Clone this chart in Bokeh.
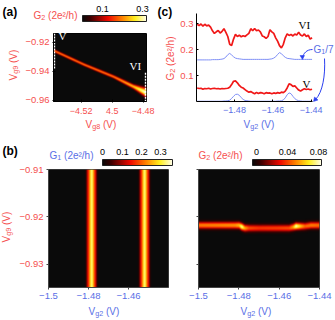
import numpy as np
from bokeh.plotting import figure
from bokeh.layouts import row, column
from bokeh.models import (Range1d, FixedTicker, Label, LinearColorMapper, ColorBar)
from bokeh.embed import file_html
from bokeh.resources import INLINE

RED = "#f5504f"
BLUE = "#5a6fe6"
SANS = "Liberation Sans"
SERIF = "Liberation Serif"

# ---- panel (c) line series, Vg2 from -1.4995 in steps of 0.001
g2_vi = [.297,.292,.298,.290,.297,.291,.294,.286,.272,.262,.268,.273,.263,.270,.280,.266,.250,.220,.215,.240,
         .258,.250,.255,.249,.253,.250,.256,.262,.280,.272,.281,.272,.275,.268,.252,.249,.243,.250,.276,.268,
         .262,.245,.232,.215,.206,.220,.245,.260,.254,.258,.252,.259,.256,.266,.256,.252,.260,.250,.255,.240,.245]
g2_v = [.052,.050,.051,.047,.050,.049,.051,.048,.050,.051,.049,.050,.048,.050,.049,.050,.051,.055,.065,.078,
        .079,.072,.062,.055,.052,.046,.040,.036,.038,.034,.030,.035,.031,.034,.033,.030,.034,.032,.033,.030,
        .033,.031,.034,.032,.036,.034,.040,.052,.068,.065,.058,.060,.052,.044,.040,.045,.049,.046,.048,.045,.047]
g1_vi = [.160]*8+[.161]*4+[.162,.163,.165,.171,.180,.185,.179,.172,.167,.165,.164,.163]+[.162]*14+ \
        [.163,.164,.167,.172,.181,.188,.184,.176,.170,.166,.165,.164,.163]+[.162]*10
g1_v = [.001]*14+[.002,.002,.003,.005,.012,.020,.027,.028,.024,.015,.008,.004,.003,.002]+[.001]*14+ \
       [.002,.002,.003,.006,.014,.026,.033,.030,.020,.011,.006,.003,.002]+[.001]*6
vg2_c = [-1.4995+0.001*i for i in range(len(g2_vi))]

# ---- panel (a): ridge of G2 in the (Vg8, Vg9) plane
a_vg8 = [-4.5379,-4.5183,-4.4990,-4.4861,-4.4785]
a_vg9 = [-0.9255,-0.9352,-0.9437,-0.9506,-0.9545]
a_peak = [0.190,0.190,0.190,0.230,0.310]
a_width = [0.0010,0.0010,0.0011,0.0015,0.0028]

# ---- panel (b) left: G1 stripes
b1_centres = [-1.4785,-1.4518]
b1_offset = [-.0034,-.0027,-.0022,-.0017,-.0012,-.0006,0,.0006,.0012,.0017,.0022,.0027,.0034]
b1_shape = [0,.04,.11,.16,.21,.28,.34,.28,.21,.16,.11,.04,0]

# ---- panel (b) right: G2 line along Vg2
b2_vg2 = [-1.5,-1.49,-1.482,-1.480,-1.4786,-1.477,-1.475,-1.47,-1.46,-1.455,-1.453,-1.4515,-1.449,-1.447,-1.444,-1.44]
b2_vg9 = [-.9218,-.9218,-.9218,-.9218,-.9221,-.9224,-.9224,-.9224,-.9224,-.9224,-.9222,-.9220,-.9220,-.9220,-.9218,-.9218]
b2_peak = [.056,.058,.060,.066,.086,.062,.048,.044,.046,.048,.062,.088,.066,.052,.056,.054]

prof_x = [-2.2,-1.6,-1.2,-.8,-.4,0,.4,.8,1.2,1.6,2.2]
prof_y = [0,.05,.22,.52,.88,1,.88,.52,.22,.05,0]

stops = [(0,(10,10,10)),(.12,(60,0,0)),(.40,(240,10,0)),(.62,(255,130,0)),(.82,(255,240,30)),(1,(255,255,235))]
pal = []
for i in range(256):
    t = i/255
    pal.append("#%02x%02x%02x" % tuple(int(np.interp(t,[s[0] for s in stops],[s[1][k] for s in stops])) for k in range(3)))

WIDTHS = {"V":.667,"g":.556,"G":.778,"e":.556,"/":.278,"h":.556," ":.278,"(":.333,")":.333,"²":.333}
def tw(s, fs):
    return sum(WIDTHS.get(c,.556) for c in s)*fs

def mk(cell, frame, xr, yr):
    cx0,cy0,cx1,cy1 = cell
    fx0,fy0,fx1,fy1 = frame
    p = figure(width=cx1-cx0,height=cy1-cy0,output_backend="svg",toolbar_location=None,
               x_range=Range1d(*xr),y_range=Range1d(*yr),frame_align=False,
               min_border_left=fx0-cx0,min_border_right=cx1-fx1,min_border_top=fy0-cy0,min_border_bottom=cy1-fy1,
               background_fill_color=None,border_fill_color=None)
    p.grid.visible = False
    return p

# transparent sheet over the whole page, its data units are page pixels: holds the free texts
sheet = figure(width=335,height=320,output_backend="svg",toolbar_location=None,frame_align=False,
               x_range=Range1d(0,335),y_range=Range1d(320,0),x_axis_location=None,y_axis_location=None,
               min_border=0,background_fill_color=None,border_fill_color=None,outline_line_color=None,
               margin=(-320,0,0,0))
sheet.grid.visible = False

def text(x,y,t,color="black",fs=10,font=SANS,style="normal",align="left",angle=0):
    if angle: x -= 3
    else: y -= 6
    sheet.add_layout(Label(x=x,y=y,text=t,text_color=color,text_font_size=f"{fs}px",text_font=font,
                           text_font_style=style,text_align=align,text_baseline="alphabetic",
                           angle=angle,angle_units="deg"))
def parts(x,y,segs,color,fs=10,vertical=False):
    for t,sub in segs:
        f = fs*.72 if sub else fs
        lead = tw(t[:len(t)-len(t.lstrip())],f)
        if vertical:
            y -= lead
            text(x+(2 if sub else 0),y,t.strip(),color,f,angle=90)
            y -= tw(t.strip(),f)
        else:
            x += lead
            text(x,y+(2 if sub else 0),t.strip(),color,f)
            x += tw(t.strip(),f)
def cbar(p,f,x0,x1,y0,y1,hi):
    m = LinearColorMapper(palette=pal,low=0,high=hi)
    p.add_layout(ColorBar(color_mapper=m,location=(x0-f[0],f[3]-y1),width=x1-x0,height=y1-y0,padding=0,margin=0,
                          orientation="horizontal",ticker=FixedTicker(ticks=[]),major_tick_line_color=None,minor_tick_line_color=None,
                          bar_line_color="#222222",bar_line_width=1,border_line_color=None,background_fill_color=None,label_standoff=0))

def style(ax,ticks,labels,color,fs=9,tin=2,tout=0,lc="black",so=3):
    ax.ticker = FixedTicker(ticks=ticks)
    ax.major_label_overrides = dict(zip(ticks,labels))
    ax.major_label_text_color = color
    ax.major_label_text_font = SANS
    ax.major_label_text_font_size = f"{fs}px"
    ax.major_label_standoff = so
    ax.major_tick_in = tin
    ax.major_tick_out = tout
    ax.minor_tick_line_color = None
    ax.axis_line_color = lc
    ax.major_tick_line_color = lc

# ---------- (a)
fa = (53,33,146,101)
xa = (-4.5379,-4.4779); ya = (-0.9607,-0.9138)
pa = mk((0,0,155,140),fa,xa,ya)
X,Y = np.meshgrid(np.linspace(*xa,93),np.linspace(*ya,68))
cy = np.interp(X,a_vg8,a_vg9); pk = np.interp(X,a_vg8,a_peak); wd = np.interp(X,a_vg8,a_width)
Za = pk*np.interp((Y-cy)/wd,prof_x,prof_y)
mapa = LinearColorMapper(palette=pal,low=0,high=.31)
pa.image(image=[Za],x=xa[0],y=ya[0],dw=xa[1]-xa[0],dh=ya[1]-ya[0],color_mapper=mapa)
pa.outline_line_color="black"
style(pa.xaxis[0],[-4.52,-4.5,-4.48],["−4.52","4.5","−4.48"],RED,tin=2,tout=1,so=5)
style(pa.yaxis[0],[-.96,-.94,-.92],["−0.96","−0.94","−0.92"],RED,fs=9.5,tin=2,tout=1)
pa.segment(x0=[xa[0]+.0006],x1=[xa[0]+.0006],y0=[ya[1]],y1=[-.9385],line_color="white",line_width=1.5,line_dash="2 1")
pa.segment(x0=[xa[1]-.0006],x1=[xa[1]-.0006],y0=[-.9408],y1=[ya[0]],line_color="white",line_width=1.5,line_dash="2 1")
text(58,41,"V","white",11,SERIF)
text(129,71,"VI","white",11,SERIF)
text(2,17,"(a)","black",12,SANS,"bold")
parts(33,21,[("G",0),("2",1),(" (2e²/h)",0)],RED)
cbar(pa,fa,82,146,15,21,.31)
text(102,14,"0.1","black",9,align="center")
text(142,14,"0.3","black",9,align="center")
parts(85,130,[("V",0),("g8",1),(" (V)",0)],RED)
parts(16,80,[("V",0),("g9",1),(" (V)",0)],RED,vertical=True)

# ---------- (c)
fc = (196,13,335,101)
per = .02/38.3
xc = (-1.48-(234-196)*per,-1.48+(335-234)*per); yc = (0,(101-13)/260)
pc = mk((155,0,335,140),fc,xc,yc)
pc.outline_line_color=None
pc.line(vg2_c,g1_vi,line_color="#7f8ff5",line_width=1)
pc.line(vg2_c,g1_v,line_color="#7f8ff5",line_width=1)
pc.line(vg2_c,g2_vi,line_color="#f01818",line_width=1.7)
pc.line(vg2_c,g2_v,line_color="#f01818",line_width=1.7)
style(pc.xaxis[0],[-1.48,-1.46,-1.44],["−1.48","−1.46","−1.44"],BLUE,tin=2,so=5)
pc.xaxis[0].bounds=(xc[0],-1.4395)
style(pc.yaxis[0],[.1,.2,.3],["0.1","0.2","0.3"],RED,tin=2,fs=9.5)
def arrow(pts,tip):
    (a,b,c,d)=pts
    sheet.bezier(x0=[a[0]],y0=[a[1]],x1=[d[0]],y1=[d[1]],cx0=[b[0]],cy0=[b[1]],cx1=[c[0]],cy1=[c[1]],line_color="#2a3ff0",line_width=1)
    sheet.patch([q[0] for q in tip],[q[1] for q in tip],fill_color="#2a3ff0",line_color="#2a3ff0",line_width=.5)
arrow([(312,49),(306,49),(303,53),(302,57)],[(302,59),(299.5,55),(304,55)])
arrow([(324,58),(325,75),(322,92),(315,99)],[(313,101),(314,96.5),(317.5,99.5)])
text(157,17,"(c)","black",12,SANS,"bold")
text(298,30,"VI","black",11,SERIF)
text(302,89,"V","black",11,SERIF)
parts(313,55,[("G",0),("1",1),("/7",0)],BLUE)
parts(243,130,[("V",0),("g2",1),(" (V)",0)],BLUE)
parts(173,80,[("G",0),("2",1),(" (2e²/h)",0)],RED,vertical=True)

# ---------- (b) left
fb1 = (48,169,168,287)
xb = (-1.5,-1.44); yb = (-0.93495,-0.91)
pb1 = mk((0,140,178,320),fb1,xb,yb)
xs = np.linspace(*xb,120)
line1 = np.max([np.interp(xs-c,b1_offset,b1_shape) for c in b1_centres],axis=0)
Zb1 = np.tile(line1,(2,1))
mapb1 = LinearColorMapper(palette=pal,low=0,high=.36)
pb1.image(image=[Zb1],x=xb[0],y=yb[0],dw=xb[1]-xb[0],dh=yb[1]-yb[0],color_mapper=mapb1)
pb1.outline_line_color="#444444"
style(pb1.xaxis[0],[-1.5,-1.48,-1.46],["−1.5","−1.48","−1.46"],BLUE,fs=9.5,tin=0,tout=2,lc="#444444")
style(pb1.yaxis[0],[-.93,-.92,-.91],["−0.93","−0.92","−0.91"],RED,fs=9.5,tin=0,tout=2,lc="#444444")
text(2,156,"(b)","black",12,SANS,"bold")
parts(49,161,[("G",0),("1",1),(" (2e²/h)",0)],BLUE)
cbar(pb1,fb1,102,172,159,165,.36)
for x,t in zip([102,122,141,160],["0","0.1","0.2","0.3"]):
    text(x,157,t,"black",9,align="center")
parts(88,317,[("V",0),("g2",1),(" (V)",0)],BLUE)
parts(9,242,[("V",0),("g9",1),(" (V)",0)],RED,vertical=True)

# ---------- (b) right
fb2 = (198,169,319,287)
pb2 = mk((178,140,335,320),fb2,xb,yb)
X,Y = np.meshgrid(np.linspace(*xb,121),np.linspace(*yb,118))
cy = np.interp(X,b2_vg2,b2_vg9); pk = np.interp(X,b2_vg2,b2_peak)
Zb2 = pk*np.interp((Y-cy)/.00072,prof_x,prof_y)
mapb2 = LinearColorMapper(palette=pal,low=0,high=.09)
pb2.image(image=[Zb2],x=xb[0],y=yb[0],dw=xb[1]-xb[0],dh=yb[1]-yb[0],color_mapper=mapb2)
pb2.outline_line_color="#444444"
style(pb2.xaxis[0],[-1.5,-1.48,-1.46,-1.44],["−1.5","−1.48","−1.46","−1.44"],BLUE,fs=9.5,tin=0,tout=2,lc="#444444")
style(pb2.yaxis[0],[-.93,-.92,-.91],["","",""],RED,fs=9.5,tin=0,tout=2,lc="#444444")
parts(198,161,[("G",0),("2",1),(" (2e²/h)",0)],RED)
cbar(pb2,fb2,252,321,159,165,.09)
for x,t in zip([256,287,318],["0","0.04","0.08"]):
    text(x,157,t,"black",9,align="center")
parts(240,317,[("V",0),("g2",1),(" (V)",0)],BLUE)

layout = column(row(pa,pc,spacing=0),row(pb1,pb2,spacing=0),sheet,spacing=0,margin=(0,0,0,0))
open("out.html","w").write(file_html(layout,INLINE))
